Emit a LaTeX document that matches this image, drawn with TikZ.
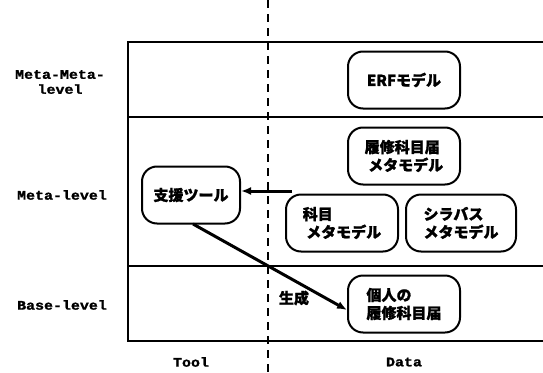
\documentclass[tikz,border=0pt]{standalone}
\usepackage{fontspec}
\newfontfamily\lblfont[FakeStretch=1.15,FakeBold=1.5]{Liberation Mono}
\newfontfamily\jpfont[FakeBold=1.2]{Noto Sans CJK JP}
\usetikzlibrary{arrows.meta}
\begin{document}
\begin{tikzpicture}[x=1pt,y=-1pt,
  box/.style={draw,line width=2pt,rounded corners=15pt,minimum width=112pt,minimum height=57pt,align=left,font=\jpfont\bfseries\fontsize{15}{18}\selectfont,inner sep=4pt},
  lvl/.style={font=\lblfont\bfseries\fontsize{13}{15}\selectfont,align=center},
  frame/.style={line width=2.8pt},
  conn/.style={line width=3pt,-{Latex[length=10pt,width=8pt]}}]
\useasboundingbox (0,0) rectangle (543,372);
% frame
\draw[frame] (543,42) -- (128,42) -- (128,341) -- (543,341);
\draw[frame] (128,117) -- (543,117);
\draw[frame] (128,266) -- (543,266);
\draw[line width=1.6pt,dash pattern=on 8pt off 6pt] (268,0) -- (268,372);
% level labels
\node[lvl] (mm) at (60,82) {Meta-Meta-\\level};
\node[lvl] (ml) at (62,195) {Meta-level};
\node[lvl] (bl) at (62,305) {Base-level};
\node[lvl] (tool) at (191,362) {Tool};
\node[lvl] (data) at (404,362) {Data};
% boxes
\node[box] (erf) at (404,80) {ERFモデル};
\node[box] (rm) at (404,156) {履修科目届\\\ メタモデル};
\node[box,minimum width=98pt] (tl) at (191,195) {支援ツール};
\node[box] (km) at (342,223) {科目\\\ メタモデル};
\node[box,minimum width=110pt] (sm) at (461,223) {シラバス\\メタモデル};
\node[box] (kj) at (404,304) {個人の\\履修科目届};
% arrows
\coordinate (src) at (292,191);
\draw[conn] (src) -- (tl.east |- src);
\draw[conn] (193,224) -- (kj.west |- 0,310);
\node[font=\jpfont\bfseries\fontsize{15}{18}\selectfont] (gen) at (294,298) {生成};
\end{tikzpicture}
\end{document}
